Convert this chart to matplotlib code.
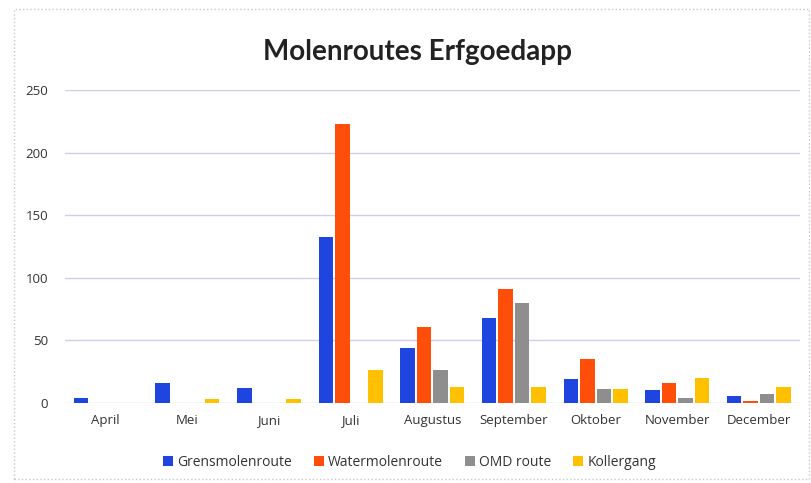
import numpy as np
import matplotlib
matplotlib.use("Agg")
from matplotlib import pyplot as plt
from matplotlib.patches import Rectangle

months = ["April", "Mei", "Juni", "Juli", "Augustus", "September",
          "Oktober", "November", "December"]
grensmolen = [4, 16, 12, 133, 44, 68, 19, 10, 6]
watermolen = [0, 0, 0, 223, 61, 91, 35, 16, 2]
omd_route = [0, 0, 0, 0, 26, 80, 11, 4, 7]
kollergang = [0, 3, 3, 26, 13, 13, 11, 20, 13]

series = [("Grensmolenroute", grensmolen, "#1f45e0"),
          ("Watermolenroute", watermolen, "#ff4d0a"),
          ("OMD route", omd_route, "#8e8e8e"),
          ("Kollergang", kollergang, "#ffc000")]

plt.rcParams['font.family'] = ['Open Sans', 'DejaVu Sans']

fig = plt.figure(figsize=(8.11, 4.83), dpi=100)
# dotted chart border
fig.patches.append(Rectangle((14 / 811, 4 / 483), 1 - 14 / 811 - 0.002, 1 - 13 / 483,
                             transform=fig.transFigure, fill=False,
                             edgecolor="#c8c8c8", linestyle=":", linewidth=1))
ax = fig.add_axes([0.080, 0.1656, 0.906, 0.648])

x = np.arange(len(months))
slot = 0.202
for i, (name, vals, col) in enumerate(series):
    ax.bar(x + (i - 1.5) * slot, vals, width=0.178, color=col, label=name,
           zorder=3)

ax.set_xlim(-0.5, len(months) - 0.5)
ax.set_ylim(0, 250)
ax.set_yticks([0, 50, 100, 150, 200, 250])
ax.set_xticks(x)
ax.set_xticklabels(months)
ax.tick_params(axis="both", length=0, colors="#333333")
ax.tick_params(axis="y", pad=12, labelsize=9.5)
ax.tick_params(axis="x", pad=8, labelsize=9.5)
ax.grid(axis="y", color="#cfcfe8", linewidth=1, zorder=0)
for s in ax.spines.values():
    s.set_visible(False)

fig.text(0.515, 0.893, "Molenroutes Erfgoedapp", ha="center", va="center",
         fontsize=20, fontweight="bold", family=["Lato", "DejaVu Sans"],
         color="#222222")

fig.legend(loc="center", bbox_to_anchor=(0.505, 0.043), ncol=4, frameon=False,
           fontsize=10, handlelength=0.7, handleheight=0.7, handletextpad=0.3,
           columnspacing=1.6, labelcolor="#333333")

fig.savefig("out.png", dpi=100)
